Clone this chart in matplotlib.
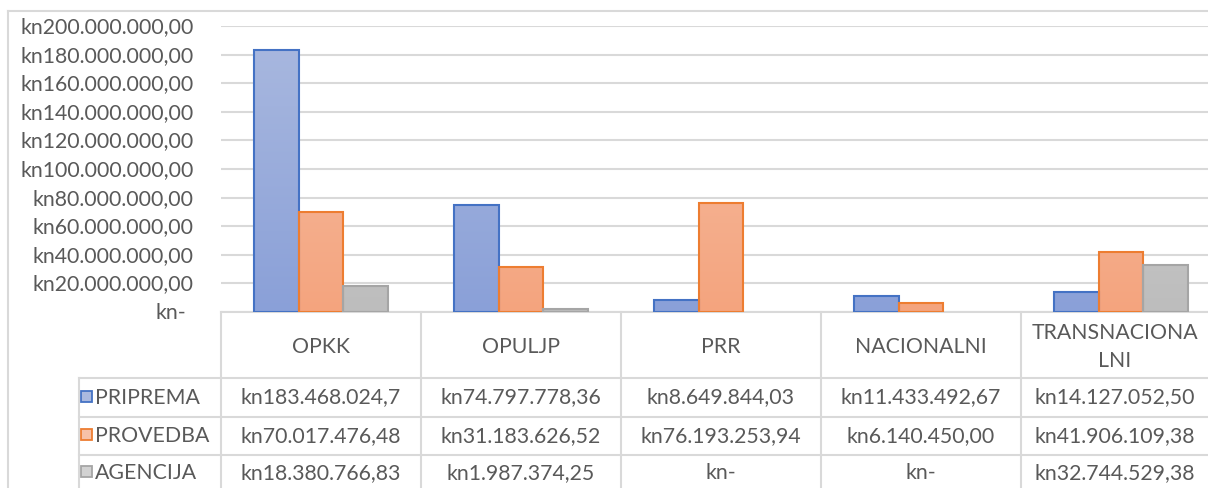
import matplotlib
matplotlib.use("Agg")
import matplotlib.pyplot as plt
import numpy as np
from matplotlib.patches import Rectangle
from matplotlib.colors import LinearSegmentedColormap

# ---------------- data ----------------
categories = ["OPKK", "OPULJP", "PRR", "NACIONALNI", "TRANSNACIONALNI"]
category_labels = ["OPKK", "OPULJP", "PRR", "NACIONALNI", "TRANSNACIONA\nLNI"]
series_names = ["PRIPREMA", "PROVEDBA", "AGENCIJA"]
priprema = [183468024.7, 74797778.36, 8649844.03, 11433492.67, 14127052.50]
provedba = [70017476.48, 31183626.52, 76193253.94, 6140450.00, 41906109.38]
agencija = [18380766.83, 1987374.25, 0.0, 0.0, 32744529.38]
table_text = [
    ["kn183.468.024,7", "kn74.797.778,36", "kn8.649.844,03", "kn11.433.492,67", "kn14.127.052,50"],
    ["kn70.017.476,48", "kn31.183.626,52", "kn76.193.253,94", "kn6.140.450,00", "kn41.906.109,38"],
    ["kn18.380.766,83", "kn1.987.374,25", "kn-", "kn-", "kn32.744.529,38"],
]
y_ticks = [0, 20e6, 40e6, 60e6, 80e6, 100e6, 120e6, 140e6, 160e6, 180e6, 200e6]

# ---------------- style ----------------
W, H = 1208, 489
FONT = "Lato"
TXT = "#595959"
GRID = "#d9d9d9"
edge_colors = ["#4472c4", "#ed7d31", "#a5a5a5"]
grad = [("#aab9df", "#8aa0d8"), ("#f7c1a8", "#f4a47e"), ("#d2d2d2", "#bdbdbd")]
fs = 15.3

def fmt(v):
    if v == 0:
        return "kn-"
    s = f"{v:,.2f}"
    s = s.replace(",", "X").replace(".", ",").replace("X", ".")
    return "kn" + s

fig = plt.figure(figsize=(W / 100, H / 100), dpi=100)

# overlay axes in pixel coordinates for border/table
ov = fig.add_axes([0, 0, 1, 1])
ov.set_xlim(0, W)
ov.set_ylim(H, 0)
ov.axis("off")

# outer chart border
ov.plot([8, W], [12, 12], color=GRID, lw=1.5)
ov.plot([8, 8], [12, H], color=GRID, lw=1.5)

# bar axes
x0, x1 = 221, 1221
ytop, ybot = 27, 313
ax = fig.add_axes([x0 / W, 1 - ybot / H, (x1 - x0) / W, (ybot - ytop) / H])
ax.set_xlim(-0.5, len(categories) - 0.5)
ax.set_ylim(0, 200e6)
for s in ax.spines.values():
    s.set_visible(False)
ax.set_xticks([])
ax.set_yticks(y_ticks)
ax.tick_params(axis="y", length=0, labelleft=False)
ax.yaxis.grid(True, color=GRID, lw=1.5)
ax.set_axisbelow(True)
ax.patch.set_alpha(0)

x = np.arange(len(categories))
bw = 1 / 4.5
series = [priprema, provedba, agencija]
for i, vals in enumerate(series):
    offs = (i - 1) * bw
    bars = ax.bar(x + offs, vals, width=bw, color="none", edgecolor=edge_colors[i], lw=1.5, zorder=3)
    cmap = LinearSegmentedColormap.from_list(f"g{i}", [grad[i][1], grad[i][0]])
    for b, v in zip(bars, vals):
        if v <= 0:
            b.set_visible(False)
            continue
        bx = b.get_x()
        im = ax.imshow(np.linspace(0, 1, 256).reshape(-1, 1), cmap=cmap, aspect="auto",
                       origin="lower", extent=[bx, bx + b.get_width(), 0, 200e6], zorder=2)
        im.set_clip_path(b)
ax.set_xlim(-0.5, len(categories) - 0.5)
ax.set_ylim(0, 200e6)

# y tick labels
for t in y_ticks:
    lab = fmt(t)
    xr = 186 if t == 0 else 194
    ov.text(xr, ybot - t / 200e6 * (ybot - ytop), lab, ha="right", va="center",
            color=TXT, fontsize=fs, family=FONT)

# ---------------- data table ----------------
col_edges = [221, 421, 621, 821, 1021, 1221]
row_edges = [313, 379, 418, 456, 495]
legend_left = 79
lw_t = 1.5
ov.plot([221, W], [313, 313], color=GRID, lw=lw_t)
for yy in row_edges[1:-1]:
    ov.plot([legend_left, W], [yy, yy], color=GRID, lw=lw_t)
ov.plot([legend_left, legend_left], [379, H], color=GRID, lw=lw_t)
for xx in col_edges[:-1]:
    ov.plot([xx, xx], [313, H], color=GRID, lw=lw_t)

def col_center(j):
    return (col_edges[j] + col_edges[j + 1]) / 2 if j < 4 else (1021 + 1208) / 2

for j, lab in enumerate(category_labels):
    ov.text(col_center(j), 347, lab, ha="center", va="center", color=TXT, fontsize=fs,
            family=FONT, linespacing=1.55)

row_centers = [397.5, 436, 473]
for i, name in enumerate(series_names):
    cy = row_centers[i]
    ov.add_patch(Rectangle((81, cy - 6), 11, 11, facecolor=grad[i][0], edgecolor=edge_colors[i], lw=1.3))
    ov.text(95, cy, name, ha="left", va="center", color=TXT, fontsize=fs, family=FONT)
    for j in range(len(categories)):
        ov.text(col_center(j), cy, table_text[i][j], ha="center", va="center", color=TXT,
                fontsize=fs, family=FONT)

fig.savefig("out.png", dpi=100)
